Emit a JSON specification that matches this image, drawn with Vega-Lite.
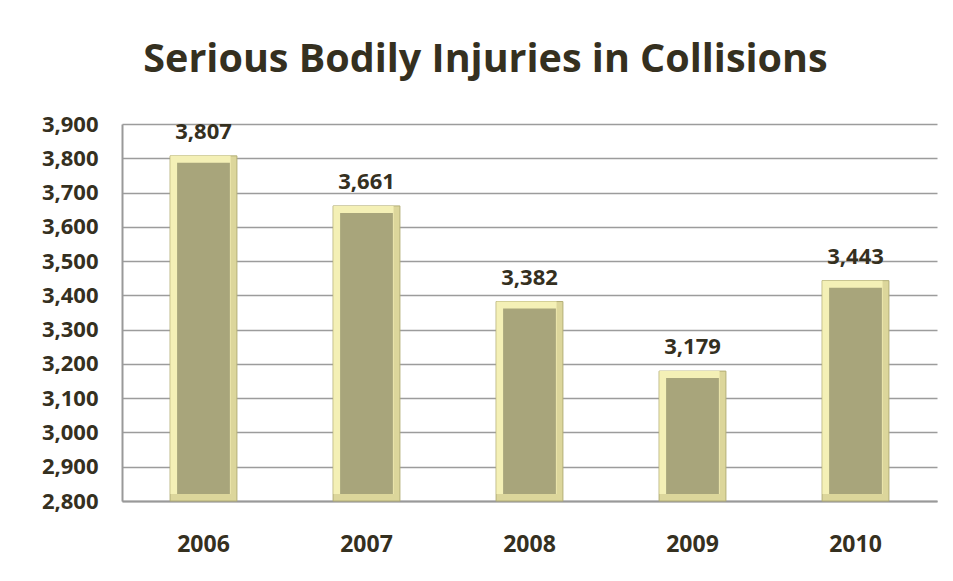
{
  "$schema": "https://vega.github.io/schema/vega-lite/v6.json",
  "width": 815,
  "height": 377,
  "autosize": "none",
  "padding": {"left": 122, "top": 124, "right": 16, "bottom": 80},
  "background": "white",
  "title": {
    "text": "Serious Bodily Injuries in Collisions",
    "font": "Open Sans",
    "fontSize": 39.5,
    "fontWeight": "bold",
    "color": "#35301f",
    "anchor": "middle",
    "dx": -44,
    "offset": 33
  },
  "data": {
    "values": [
      {"year": "2006", "value": 3807},
      {"year": "2007", "value": 3661},
      {"year": "2008", "value": 3382},
      {"year": "2009", "value": 3179},
      {"year": "2010", "value": 3443}
    ]
  },
  "encoding": {
    "x": {
      "field": "year",
      "type": "nominal",
      "sort": null,
      "scale": {"paddingInner": 0.59, "paddingOuter": 0.295},
      "axis": {
        "title": null,
        "labelAngle": 0,
        "labelFont": "Open Sans",
        "labelFontSize": 23,
        "labelFontWeight": "bold",
        "labelColor": "#35301f",
        "labelPadding": 32,
        "ticks": false,
        "tickSize": 0,
        "domainColor": "#999999",
        "domainWidth": 2
      }
    },
    "y": {
      "field": "value",
      "type": "quantitative",
      "scale": {"domain": [2800, 3900], "zero": false, "nice": false},
      "axis": {
        "title": null,
        "values": [2800, 2900, 3000, 3100, 3200, 3300, 3400, 3500, 3600, 3700, 3800, 3900],
        "format": ",d",
        "labelFont": "Open Sans",
        "labelFontSize": 22,
        "labelFontWeight": "bold",
        "labelColor": "#35301f",
        "labelPadding": 24,
        "ticks": false,
        "tickSize": 0,
        "domainColor": "#999999",
        "domainWidth": 2,
        "gridColor": "#9c9c9c",
        "gridWidth": 1.5,
        "gridOpacity": 1
      }
    }
  },
  "layer": [
    {
      "mark": {"type": "bar", "width": {"band": 1}, "fill": "#dcd69b", "stroke": "#b3ae76", "strokeWidth": 1},
      "encoding": {"y2": {"datum": 2800}}
    },
    {
      "mark": {"type": "bar", "width": {"band": 0.9}, "xOffset": -3, "y2Offset": -7, "fill": "#f4f0b6"},
      "encoding": {"y2": {"datum": 2800}}
    },
    {
      "mark": {"type": "bar", "width": {"band": 0.79}, "yOffset": 7, "y2Offset": -7, "fill": "#a8a57b"},
      "encoding": {"y2": {"datum": 2800}}
    },
    {
      "mark": {"type": "text", "baseline": "bottom", "dy": -12, "font": "Open Sans", "fontSize": 22, "fontWeight": "bold", "color": "#35301f"},
      "encoding": {"text": {"field": "value", "type": "quantitative", "format": ",d"}}
    }
  ],
  "config": {"view": {"stroke": null}}
}
